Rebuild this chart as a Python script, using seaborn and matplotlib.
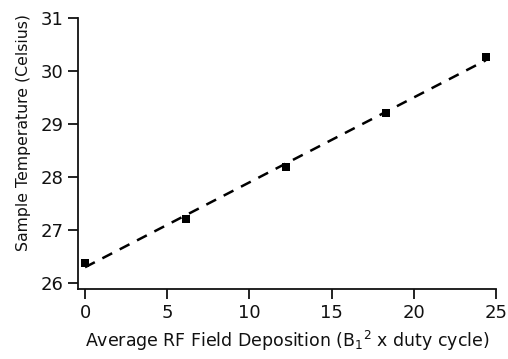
import numpy as np
import pandas as pd
import matplotlib
matplotlib.use('Agg')
import matplotlib.pyplot as plt
import seaborn as sns

# values
rf_deposition = [0.0, 6.13, 12.23, 18.3, 24.39]
sample_temp = [26.38, 27.2, 28.19, 29.21, 30.26]
x_ticks = [0, 5, 10, 15, 20, 25]
y_ticks = [26, 27, 28, 29, 30, 31]

df = pd.DataFrame({'x': rf_deposition, 'y': sample_temp})

sns.set_style('ticks')
plt.rcParams['font.family'] = ['DejaVu Sans']

fig = plt.figure(figsize=(5.08, 3.59), dpi=100)
ax = fig.add_axes([0.1535, 0.195, 0.8225, 0.755])

sns.regplot(
    data=df, x='x', y='y', ax=ax, ci=None,
    marker='s',
    scatter_kws={'s': 38, 'color': 'black', 'alpha': 1, 'linewidths': 0, 'zorder': 3},
    line_kws={'color': 'black', 'linestyle': (0, (4.4, 3.4)), 'linewidth': 1.8},
)

ax.set_xlim(-0.43, 25)
ax.set_ylim(25.88, 31)
ax.set_xticks(x_ticks)
ax.set_yticks(y_ticks)
ax.tick_params(direction='out', length=7.5, width=1.3, labelsize=13, colors='#111111', pad=3)
for side in ['top', 'right']:
    ax.spines[side].set_visible(False)
for side in ['left', 'bottom']:
    ax.spines[side].set_linewidth(1.3)
    ax.spines[side].set_color('#111111')
ax.set_xlabel('Average RF Field Deposition (B$_1$$^2$ x duty cycle)', fontsize=12.5, color='#111111', labelpad=5)
ax.set_ylabel('Sample Temperature (Celsius)', fontsize=11.3, color='#111111')
ax.yaxis.set_label_coords(-0.112, 0.577)

fig.savefig('out.png', dpi=100)
